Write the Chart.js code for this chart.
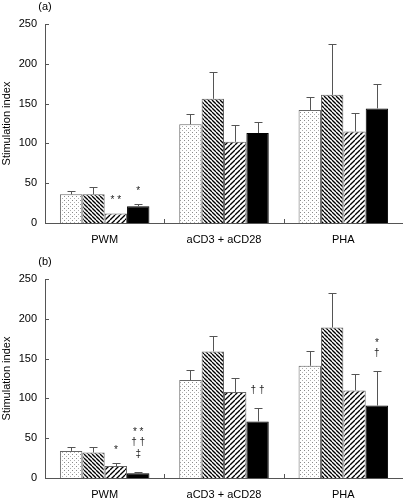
<!DOCTYPE html>
<html>
<head>
<meta charset="utf-8">
<script src="https://cdn.jsdelivr.net/npm/chart.js@4.4.1/dist/chart.umd.min.js"></script>
<style>
html,body{margin:0;padding:0;background:#fff;width:403px;height:498px;overflow:hidden}
canvas{position:absolute;left:0;display:block}
#ca{top:0}
#cb{top:250px}
</style>
</head>
<body>
<canvas id="ca" width="403" height="250"></canvas>
<canvas id="cb" width="403" height="248"></canvas>
<script>
const categories=['PWM','aCD3 + aCD28','PHA'];
const yTicks=[0,50,100,150,200,250];

// panel (a) means and upper error (SE)
const a1=[36,124,142],a1Err=[4,13,16];
const a2=[36,156,161],a2Err=[9,34,64];
const a3=[12,102,115],a3Err=[0,21,23];
const a4=[21,113,144],a4Err=[3,14,31];
const a3Note=['* *','',''];
const a4Note=['*','',''];

// panel (b)
const b1=[34,123,141],b1Err=[5,13,18];
const b2=[32,159,189],b2Err=[7,20,43];
const b3=[15,108,110],b3Err=[4,18,21];
const b4=[6,71,91],b4Err=[1,17,43];
const b3Note=['*','',''];
const b4Note=['* *\n† †\n‡','† †','*\n†'];

const FONT='"Liberation Sans", Arial, Helvetica, sans-serif';
const AX='#555';

function tile(size,draw){
  const c=document.createElement('canvas');c.width=size;c.height=size;
  const g=c.getContext('2d');g.fillStyle='#fff';g.fillRect(0,0,size,size);
  draw(g,size);
  return document.createElement('canvas').getContext('2d').createPattern(c,'repeat');
}
const dots=tile(4,(g)=>{g.fillStyle='#8a8a8a';g.fillRect(0,0,1,1);g.fillStyle='#b0b0b0';g.fillRect(2,2,1,1);});
function hatch(size,dir,w){
  return tile(size,(g,s)=>{
    g.strokeStyle='#000';g.lineWidth=w;
    for(let k=-1;k<=1;k++){
      g.beginPath();
      if(dir>0){g.moveTo(k*s,s);g.lineTo(k*s+s,0);}
      else{g.moveTo(k*s,0);g.lineTo(k*s+s,s);}
      g.stroke();
    }
  });
}
const back=hatch(4,-1,1.3);
const fwd=hatch(5,1,1.3);

const extras={
  id:'extras',
  afterDatasetsDraw(chart,args,opts){
    const ctx=chart.ctx,y=chart.scales.y,x=chart.scales.x,ca=chart.chartArea;
    ctx.save();
    // error bars
    ctx.strokeStyle=AX;ctx.lineWidth=1;
    chart.data.datasets.forEach((ds,di)=>{
      const meta=chart.getDatasetMeta(di);
      meta.data.forEach((bar,i)=>{
        const e=ds.err[i];if(!e)return;
        const top=Math.round(y.getPixelForValue(ds.data[i]+e))+0.5;
        const bx=Math.round(bar.x)+0.5;
        ctx.beginPath();
        ctx.moveTo(bx,bar.y);ctx.lineTo(bx,top);
        ctx.moveTo(bx-4,top);ctx.lineTo(bx+4,top);
        ctx.stroke();
      });
    });
    // significance marks
    ctx.fillStyle='#222';ctx.font='10px '+FONT;ctx.textAlign='center';ctx.textBaseline='middle';
    chart.data.datasets.forEach((ds,di)=>{
      if(!ds.note)return;
      const meta=chart.getDatasetMeta(di);
      meta.data.forEach((bar,i)=>{
        const t=ds.note[i];if(!t)return;
        const lines=t.split('\n').reverse();
        const top=y.getPixelForValue(ds.data[i]+ds.err[i]);
        const base=top-(lines[0].indexOf('*')>=0?15:18);
        lines.forEach((ln,k)=>{
          const star=ln.indexOf('*')>=0;
          ctx.fillText(ln,bar.x,base-k*12+(star?2:0));
        });
      });
    });
    // inward tick marks
    ctx.strokeStyle=AX;ctx.beginPath();
    y.ticks.forEach(t=>{
      const py=Math.round(y.getPixelForValue(t.value))+0.5;
      ctx.moveTo(ca.left,py);ctx.lineTo(ca.left+4,py);
    });
    for(let i=0;i<categories.length-1;i++){
      const px=Math.round((x.getPixelForValue(i)+x.getPixelForValue(i+1))/2)+0.5;
      ctx.moveTo(px,ca.bottom);ctx.lineTo(px,ca.bottom-4);
    }
    ctx.stroke();
    // panel letter
    ctx.fillStyle='#000';ctx.font='11px '+FONT;ctx.textAlign='center';
    ctx.fillText(opts.letter,ca.left,opts.letterY);
    ctx.restore();
  }
};

function makeChart(id,series,errs,notes,letter,padTop,axisH,letterY){
  const fills=[dots,back,fwd,'#000'];
  return new Chart(document.getElementById(id),{
    type:'bar',
    data:{
      labels:categories,
      datasets:series.map((s,i)=>({
        data:s,err:errs[i],note:notes[i],
        backgroundColor:fills[i],borderColor:i===3?'#000':'#666',borderWidth:1,
        categoryPercentage:0.75,barPercentage:1
      }))
    },
    options:{
      responsive:false,animation:false,devicePixelRatio:1,
      layout:{padding:{top:padTop,right:0,left:0,bottom:0}},
      plugins:{legend:{display:false},tooltip:{enabled:false},extras:{letter,letterY}},
      scales:{
        x:{
          grid:{display:false,drawTicks:false},border:{display:true,color:AX,width:1},
          ticks:{color:'#000',font:{family:FONT,size:11},padding:10,maxRotation:0},
          afterFit(s){s.height=axisH;}
        },
        y:{
          min:0,max:250,
          grid:{display:false,drawTicks:false},border:{display:true,color:AX,width:1},
          ticks:{color:'#000',font:{family:FONT,size:11},padding:8,stepSize:50,callback:v=>yTicks.includes(v)?String(v):null},
          title:{display:true,text:'Stimulation index',color:'#000',font:{family:FONT,size:11},padding:0},
          afterFit(s){s.width=45;}
        }
      }
    },
    plugins:[extras]
  });
}

makeChart('ca',[a1,a2,a3,a4],[a1Err,a2Err,a3Err,a4Err],[null,null,a3Note,a4Note],'(a)',24,27,7);
makeChart('cb',[b1,b2,b3,b4],[b1Err,b2Err,b3Err,b4Err],[null,null,b3Note,b4Note],'(b)',29,20,12);
</script>
</body>
</html>
